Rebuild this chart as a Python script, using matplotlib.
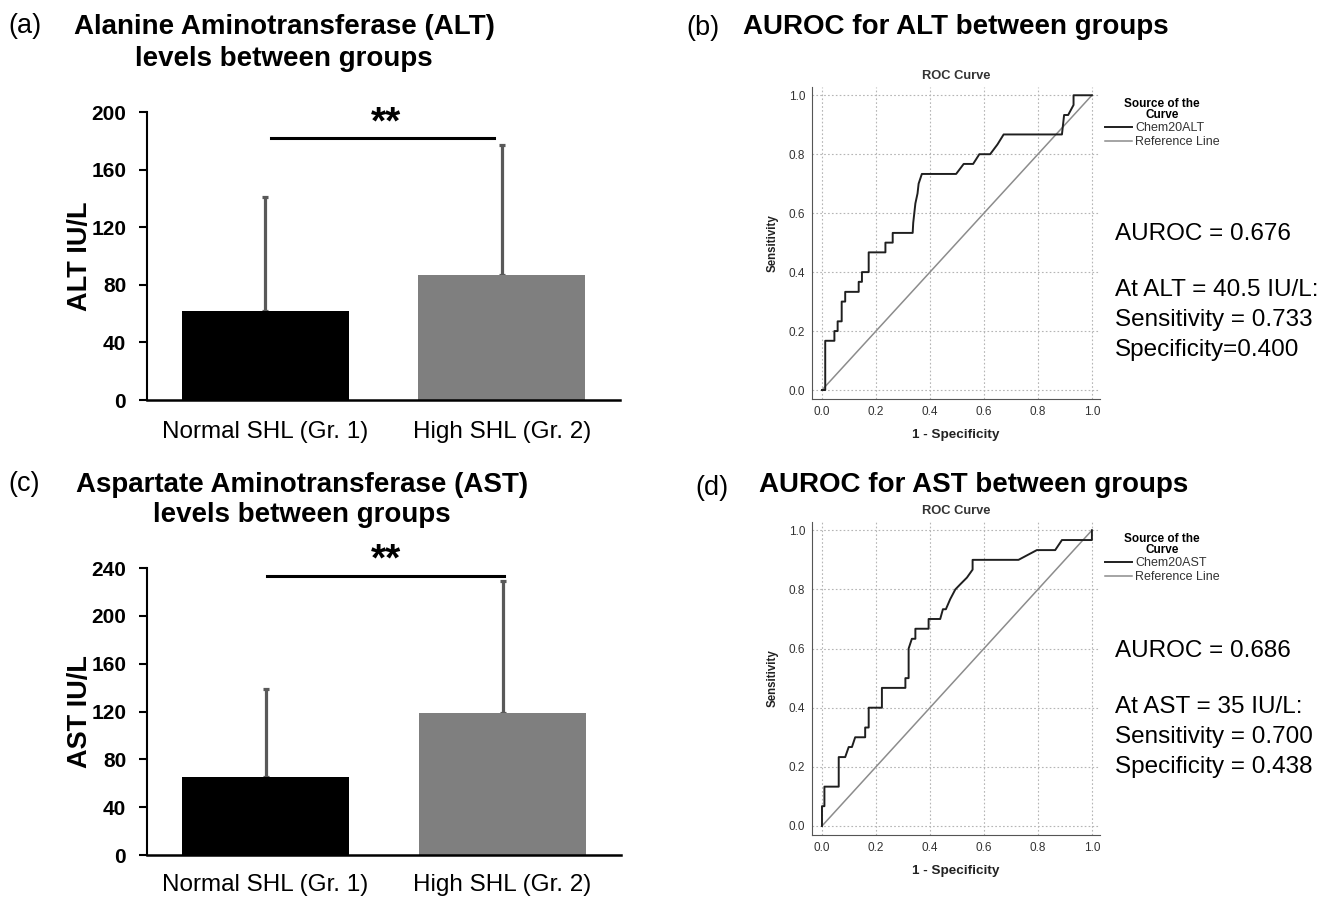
import matplotlib
matplotlib.use('Agg')
import matplotlib.pyplot as plt

plt.rcParams['font.family'] = ['Liberation Sans', 'DejaVu Sans']

##############################################################################################
#                                       DATA                                                 #
##############################################################################################

groups = ['Normal SHL (Gr. 1)', 'High SHL (Gr. 2)']

alt_mean = [62.1, 86.9]
alt_sd = [79.0, 89.9]
ast_mean = [65.6, 118.6]
ast_sd = [73.1, 110.2]

alt_ticks = [0, 40, 80, 120, 160, 200]
ast_ticks = [0, 40, 80, 120, 160, 200, 240]

# ROC curve points
alt_fpr = [0, 0.012, 0.012, 0.046, 0.046, 0.058, 0.058, 0.073, 0.073, 0.086, 0.086, 0.136, 0.136,
           0.148, 0.148, 0.173, 0.173, 0.235, 0.235, 0.262, 0.262, 0.336, 0.338, 0.342, 0.346,
           0.354, 0.358, 0.37, 0.497, 0.525, 0.56, 0.583, 0.623, 0.65, 0.673, 0.889, 0.897,
           0.912, 0.932, 0.932, 1.0]
alt_tpr = [0, 0, 0.167, 0.167, 0.2, 0.2, 0.233, 0.233, 0.3, 0.3, 0.333, 0.333, 0.367,
           0.367, 0.4, 0.4, 0.467, 0.467, 0.5, 0.5, 0.533, 0.533, 0.567, 0.6, 0.633,
           0.667, 0.7, 0.733, 0.733, 0.767, 0.767, 0.8, 0.8, 0.833, 0.867, 0.867, 0.933,
           0.933, 0.967, 1.0, 1.0]

ast_fpr = [0, 0, 0.009, 0.009, 0.062, 0.062, 0.086, 0.099, 0.111, 0.123, 0.16, 0.16, 0.173,
           0.173, 0.222, 0.222, 0.309, 0.309, 0.321, 0.321, 0.333, 0.346, 0.346, 0.395, 0.395,
           0.438, 0.448, 0.459, 0.475, 0.494, 0.512, 0.537, 0.558, 0.558, 0.728, 0.796, 0.864,
           0.889, 1.0, 1.0]
ast_tpr = [0, 0.067, 0.067, 0.133, 0.133, 0.233, 0.233, 0.267, 0.267, 0.3, 0.3, 0.333, 0.333,
           0.4, 0.4, 0.467, 0.467, 0.5, 0.5, 0.6, 0.633, 0.633, 0.667, 0.667, 0.7,
           0.7, 0.733, 0.733, 0.767, 0.8, 0.817, 0.84, 0.867, 0.9, 0.9, 0.933, 0.933,
           0.967, 0.967, 1.0]

roc_ticks = [0.0, 0.2, 0.4, 0.6, 0.8, 1.0]

W, H = 1326, 897
fig = plt.figure(figsize=(W / 100, H / 100), dpi=100)


def px_axes(left, top, right, bottom):
    # axes from pixel box
    return fig.add_axes([left / W, 1 - bottom / H, (right - left) / W, (bottom - top) / H])


def fig_text(x, y, s, **kw):
    fig.text(x / W, 1 - y / H, s, **kw)


##############################################################################################
#                                       BAR PANELS                                           #
##############################################################################################

def bar_panel(ax, means, sds, ticks, ylabel, sig_y, star_y, sig_x0, sig_x1, star_x, xpad):
    ax.bar([0, 1], means, width=0.706, color=['#000000', '#7f7f7f'], zorder=2)
    ax.errorbar([0, 1], means, yerr=[[0, 0], sds], fmt='none', ecolor='#595959',
                elinewidth=2.3, capsize=2.5, capthick=2.3, zorder=1)
    ax.set_xlim(-0.5, 1.5)
    ax.set_ylim(0, ticks[-1])
    ax.set_yticks(ticks)
    ax.set_xticks([0, 1])
    ax.set_xticklabels(groups, fontsize=17.5)
    for lab in ax.get_yticklabels():
        lab.set_fontweight('bold')
        lab.set_fontsize(15)
    ax.tick_params(axis='x', length=0, pad=xpad)
    ax.tick_params(axis='y', length=6, width=1.5, pad=9)
    ax.spines['top'].set_visible(False)
    ax.spines['right'].set_visible(False)
    ax.spines['left'].set_linewidth(1.5)
    ax.spines['bottom'].set_linewidth(1.8)
    ax.set_ylabel(ylabel, fontsize=19.5, fontweight='bold', labelpad=-1)
    ax.plot([sig_x0, sig_x1], [sig_y, sig_y], color='black', lw=2.2, clip_on=False)
    ax.text(star_x, star_y, '**', ha='center', va='center', fontsize=28, fontweight='bold',
            clip_on=False)


ax_a = px_axes(147, 112, 620, 400)
bar_panel(ax_a, alt_mean, alt_sd, alt_ticks, 'ALT IU/L', 182, 192, 0.023, 0.966, 0.51, 15)

ax_c = px_axes(147, 568, 621, 855)
bar_panel(ax_c, ast_mean, ast_sd, ast_ticks, 'AST IU/L', 233, 246, 0.008, 1.008, 0.51, 13.5)

##############################################################################################
#                                       ROC PANELS                                           #
##############################################################################################

def roc_panel(ax, fpr, tpr, name):
    ax.plot(fpr, tpr, color='#1f1f1f', lw=1.4, label=name, zorder=3)
    ax.plot([0, 1], [0, 1], color='#8c8c8c', lw=1.1, label='Reference Line', zorder=2)
    ax.set_xlim(-0.037, 1.03)
    ax.set_ylim(-0.0305, 1.028)
    ax.set_xticks(roc_ticks)
    ax.set_yticks(roc_ticks)
    ax.set_xticklabels([f'{t:.1f}' for t in roc_ticks])
    ax.set_yticklabels([f'{t:.1f}' for t in roc_ticks])
    ax.tick_params(length=0, labelsize=8.5, labelcolor='#333333', pad=5)
    ax.grid(True, color='#b5b5b5', linestyle=(0, (1.5, 2)), linewidth=0.8)
    ax.spines['top'].set_visible(False)
    ax.spines['right'].set_visible(False)
    ax.spines['left'].set_color('#555555')
    ax.spines['bottom'].set_color('#555555')
    ax.set_title('ROC Curve', fontsize=9.3, fontweight='bold', color='#333333', pad=6)
    ax.set_xlabel('1 - Specificity', fontsize=9.7, fontweight='bold', color='#222222', labelpad=8)
    ax.set_ylabel('Sensitivity', fontsize=8.3, fontweight='bold', color='#222222', labelpad=7)
    leg = ax.legend(loc='upper left', bbox_to_anchor=(1.017, 0.965), frameon=False, fontsize=9,
                    title='Source of the\nCurve', handlelength=2.2, handletextpad=0.2,
                    labelspacing=0.15, borderaxespad=0, borderpad=0)
    leg.get_title().set_fontweight('bold')
    leg.get_title().set_fontsize(8.5)
    leg.get_title().set_linespacing(0.85)
    leg.get_title().set_multialignment('center')
    for t in leg.get_texts():
        t.set_color('#333333')


ax_b = px_axes(812, 87, 1100, 399)
roc_panel(ax_b, alt_fpr, alt_tpr, 'Chem20ALT')

ax_d = px_axes(812, 522, 1100, 835)
roc_panel(ax_d, ast_fpr, ast_tpr, 'Chem20AST')

##############################################################################################
#                                       TEXTS                                                #
##############################################################################################

title_kw = dict(fontsize=20, fontweight='bold', ha='center', va='center', linespacing=1.25)

fig_text(8, 26, '(a)', fontsize=19.5, va='center')
fig_text(284, 43, 'Alanine Aminotransferase (ALT)\nlevels between groups', **title_kw)

fig_text(686, 28, '(b)', fontsize=19.5, va='center')
fig_text(956, 27, 'AUROC for ALT between groups', **title_kw)

fig_text(8, 484, '(c)', fontsize=19.5, va='center')
fig_text(302, 500, 'Aspartate Aminotransferase (AST)\nlevels between groups', **title_kw)

fig_text(695, 488, '(d)', fontsize=19.5, va='center')
fig_text(974, 485, 'AUROC for AST between groups', **title_kw)

note_kw = dict(fontsize=17.5, va='center', ha='left')
fig_text(1115, 234, 'AUROC = 0.676', **note_kw)
fig_text(1115, 290, 'At ALT = 40.5 IU/L:', **note_kw)
fig_text(1115, 320, 'Sensitivity = 0.733', **note_kw)
fig_text(1115, 350, 'Specificity=0.400', **note_kw)

fig_text(1115, 651, 'AUROC = 0.686', **note_kw)
fig_text(1115, 707, 'At AST = 35 IU/L:', **note_kw)
fig_text(1115, 737, 'Sensitivity = 0.700', **note_kw)
fig_text(1115, 767, 'Specificity = 0.438', **note_kw)

fig.savefig('out.png', dpi=100)
